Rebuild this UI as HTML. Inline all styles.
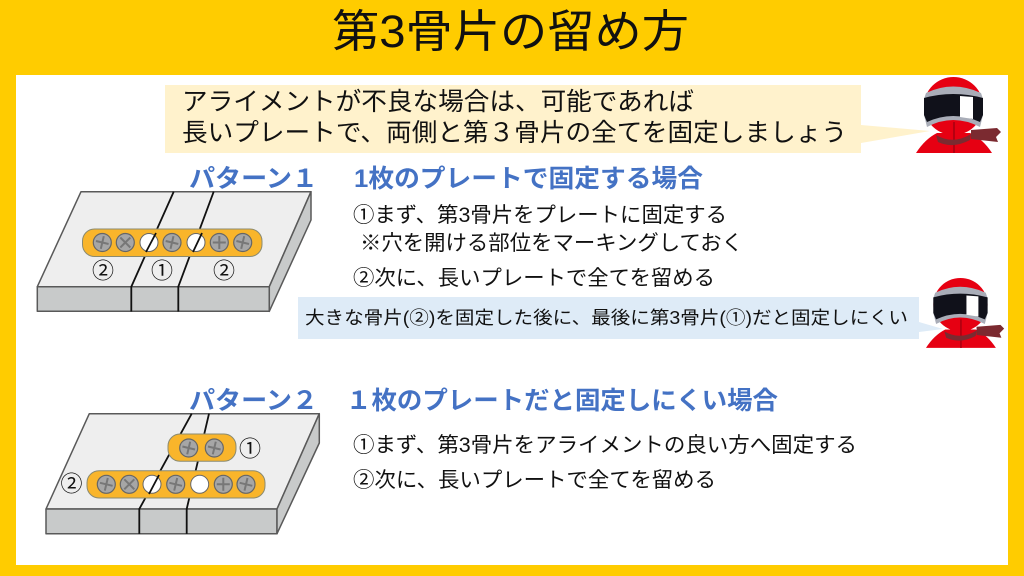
<!DOCTYPE html>
<html lang="ja"><head><meta charset="utf-8"><style>
html,body{margin:0;padding:0;background:#FFCC00}
svg{display:block}
text{font-family:"Liberation Sans","Noto Sans CJK JP",sans-serif;fill:#111}
.b{fill:#4472C4;font-weight:700}
.c{text-anchor:middle;dominant-baseline:central}
</style></head><body>
<svg width="1024" height="576" viewBox="0 0 1024 576" xmlns="http://www.w3.org/2000/svg">
<defs>
<g id="s"><circle r="9" fill="#a6a6a6" stroke="#666" stroke-width="1.2"/><path d="M-6.5 0H6.5M0-6.5V6.5" stroke="#777" stroke-width="2"/></g>
<g id="x"><circle r="9" fill="#a6a6a6" stroke="#666" stroke-width="1.2"/><path d="M-5-5L5 5M5-5L-5 5" stroke="#777" stroke-width="2"/></g>
<g id="t"><circle r="9" fill="#a6a6a6" stroke="#666" stroke-width="1.2"/><path d="M-6.3-1.5L6.3 1.5M1.5-6.3L-1.5 6.3" stroke="#777" stroke-width="2"/></g>
<g id="ninja">
<path d="M-37 76Q-28 62-16 56L17 56Q30 62 39 76Z" fill="#E60012"/>
<path d="M18 53L44 51L48 55L43 60L45 65L18 62Z" fill="#7b2a30"/>
<ellipse cx="0.5" cy="29" rx="29.5" ry="29" fill="#E60012"/>
<path d="M-27 16Q0 3 28 16L30 22V38L27 50Q0 36-26 50L-29 38V22Z" fill="#A9ADB8"/>
<path d="M-29 21Q0 13 30 21V38L27 45Q0 33-26 45L-29 38Z" fill="#10111a"/>
<path d="M7 19L20 20V42L7 40Z" fill="#fff"/>
<path d="M1 45V76" stroke="#B50010" stroke-width="2" fill="none"/>
<path d="M-17 58Q0 68 18 57L17 63Q0 72-15 65Z" fill="#7b2a30"/>
</g>
</defs>
<rect width="1024" height="576" fill="#FFCC00"/>
<rect x="16" y="75" width="992" height="490" fill="#fff"/>
<text x="332" y="47" font-size="45" textLength="357" lengthAdjust="spacingAndGlyphs">第3骨片の留め方</text>

<path d="M165 85H861V125L930 131L861 143V153H165Z" fill="#FFF2CC"/>
<text x="182" y="110" font-size="25" textLength="512" lengthAdjust="spacingAndGlyphs">アライメントが不良な場合は、可能であれば</text>
<text x="182" y="141" font-size="25" textLength="665" lengthAdjust="spacingAndGlyphs">長いプレートで、両側と第３骨片の全てを固定しましょう</text>
<use href="#ninja" x="953" y="77"/>

<text class="b" x="189" y="187" font-size="25" textLength="129" lengthAdjust="spacingAndGlyphs">パターン１</text>
<text class="b" x="354" y="187" font-size="25" textLength="349" lengthAdjust="spacingAndGlyphs">1枚のプレートで固定する場合</text>
<text x="353" y="222" font-size="21" textLength="374" lengthAdjust="spacingAndGlyphs">①まず、第3骨片をプレートに固定する</text>
<text x="360" y="250" font-size="21" textLength="383" lengthAdjust="spacingAndGlyphs">※穴を開ける部位をマーキングしておく</text>
<text x="353" y="285" font-size="21" textLength="362" lengthAdjust="spacingAndGlyphs">②次に、長いプレートで全てを留める</text>

<path d="M298 297H919V322L943 329L919 332V339H298Z" fill="#DEEBF7"/>
<use href="#ninja" transform="translate(960 278) scale(.92)"/>
<text x="305" y="324" font-size="18" textLength="603" lengthAdjust="spacingAndGlyphs">大きな骨片(②)を固定した後に、最後に第3骨片(①)だと固定しにくい</text>

<text class="b" x="189" y="409" font-size="25" textLength="129" lengthAdjust="spacingAndGlyphs">パターン２</text>
<text class="b" x="346" y="409" font-size="25" textLength="432" lengthAdjust="spacingAndGlyphs">１枚のプレートだと固定しにくい場合</text>
<text x="353" y="452" font-size="21" textLength="504" lengthAdjust="spacingAndGlyphs">①まず、第3骨片をアライメントの良い方へ固定する</text>
<text x="353" y="487" font-size="21" textLength="363" lengthAdjust="spacingAndGlyphs">②次に、長いプレートで全てを留める</text>

<!-- diagram 1 -->
<g stroke="#595959" stroke-width="1.5" stroke-linejoin="round">
<path d="M81 191.7H311L269.3 286.7H37.3Z" fill="#EEEEEE"/>
<path d="M37.3 286.7H269.3V311.3H37.3Z" fill="#C8CACA"/>
<path d="M311 191.7V220L269.3 311.3V286.7Z" fill="#C8CACA"/>
</g>
<path d="M173.7 191.7L131.3 286.7V311.5M213.7 191.7L178.3 286.7V311.5" fill="none" stroke="#111" stroke-width="1.8"/>
<rect x="82.5" y="229" width="179.5" height="27.5" rx="12" fill="#F9B52B" stroke="#8a8a70" stroke-width="1"/>
<use href="#t" x="102.3" y="242.5"/><use href="#x" x="125.3" y="242.5"/>
<circle cx="149" cy="242.5" r="9" fill="#fff" stroke="#666"/><path d="M156 233L146 252" stroke="#111" stroke-width="1.8"/>
<use href="#t" x="172" y="242.5"/>
<circle cx="196" cy="242.5" r="9" fill="#fff" stroke="#666"/><path d="M202 233L193 252" stroke="#111" stroke-width="1.8"/>
<use href="#s" x="219.3" y="242.5"/><use href="#t" x="242.7" y="242.5"/>
<text class="c" x="103" y="271" font-size="22">②</text>
<text class="c" x="162" y="271" font-size="22">①</text>
<text class="c" x="224" y="271" font-size="22">②</text>

<!-- diagram 2 -->
<g stroke="#595959" stroke-width="1.5" stroke-linejoin="round">
<path d="M89.3 413.7H319.3L277 509H46Z" fill="#EEEEEE"/>
<path d="M46 509H277V533.7H46Z" fill="#C8CACA"/>
<path d="M319.3 413.7V443L277 533.7V509Z" fill="#C8CACA"/>
</g>
<path d="M191.7 413.7L139.3 509V533.9M209 413.7L186.7 509V533.9" fill="none" stroke="#111" stroke-width="1.8"/>
<rect x="168" y="434" width="68" height="27.3" rx="12" fill="#F9B52B" stroke="#8a8a70" stroke-width="1"/>
<use href="#t" x="188.7" y="448"/><use href="#t" x="214.3" y="448"/>
<rect x="87" y="470.7" width="178" height="27.3" rx="12" fill="#F9B52B" stroke="#8a8a70" stroke-width="1"/>
<use href="#t" x="106.3" y="484.3"/><use href="#x" x="129.3" y="484.3"/>
<circle cx="152" cy="484.3" r="9" fill="#fff" stroke="#666"/><path d="M159 475L149 494" stroke="#111" stroke-width="1.8"/>
<use href="#t" x="175.7" y="484.3"/>
<circle cx="199.7" cy="484.3" r="9" fill="#fff" stroke="#666"/>
<use href="#s" x="223.3" y="484.3"/><use href="#t" x="246" y="484.3"/>
<text class="c" x="250" y="449" font-size="22">①</text>
<text class="c" x="71.5" y="484" font-size="22">②</text>
</svg>
</body></html>
